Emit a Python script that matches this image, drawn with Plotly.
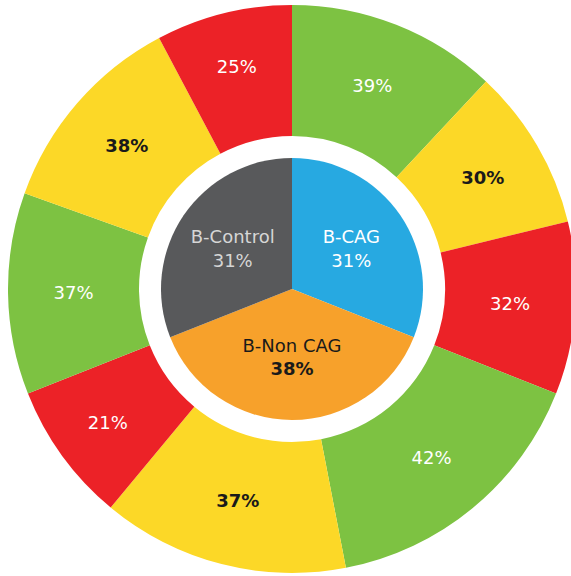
import plotly.graph_objects as go

# ---- data ----
groups = ["B-CAG", "B-Non CAG", "B-Control"]
group_pct = [31, 38, 31]
child_labels = ["Green", "Yellow", "Red"]
child_pct = [
    [39, 30, 32],   # B-CAG
    [42, 37, 21],   # B-Non CAG
    [37, 38, 25],   # B-Control
]

# ---- styles ----
group_colors = ["#27A9E1", "#F7A12B", "#58595B"]
group_text_colors = ["#FFFFFF", "#1A1A1A", "#D6D6D6"]
child_colors = {"Green": "#7DC242", "Yellow": "#FCD827", "Red": "#EC2227"}
child_text_colors = {"Green": "#FFFFFF", "Yellow": "#1A1A1A", "Red": "#FFFFFF"}

W, H = 600, 600                # figure larger than the 571x576 window (overflow hidden)
CX, CY = 292, 289              # pixel centre (from top-left)
R_OUT, R_RING_IN, R_PIE = 284, 153, 131

# outer ring: each group's angular share split by its children
outer_vals, outer_text, outer_cols, outer_tcols, outer_lbls = [], [], [], [], []
for g, gp, kids in zip(groups, group_pct, child_pct):
    s = sum(kids)
    for lab, k in zip(child_labels, kids):
        outer_vals.append(gp * k / s)
        bold = lab == "Yellow"
        outer_text.append(f"<b>{k}%</b>" if bold else f"{k}%")
        outer_cols.append(child_colors[lab])
        outer_tcols.append(child_text_colors[lab])
        outer_lbls.append(f"{g} {lab}")

inner_text = []
for g, p in zip(groups, group_pct):
    if g == "B-Non CAG":
        inner_text.append(f"{g}<br><b>{p}%</b>")
    else:
        inner_text.append(f"{g}<br>{p}%")


def dom(r):
    return dict(
        x=[(CX - r) / W, (CX + r) / W],
        y=[(H - CY - r) / H, (H - CY + r) / H],
    )


FONT = "DejaVu Sans"
FS = 18

fig = go.Figure()
fig.add_trace(go.Pie(
    labels=outer_lbls, values=outer_vals, text=outer_text,
    textinfo="text", texttemplate="%{text}",
    sort=False, direction="clockwise", rotation=0,
    hole=R_RING_IN / R_OUT,
    marker=dict(colors=outer_cols, line=dict(width=0)),
    textfont=dict(family=FONT, size=FS, color=outer_tcols),
    insidetextfont=dict(family=FONT, size=FS, color=outer_tcols),
    textposition="inside", insidetextorientation="horizontal",
    domain=dom(R_OUT), showlegend=False, hoverinfo="skip",
))
fig.add_trace(go.Pie(
    labels=groups, values=group_pct, text=inner_text,
    textinfo="text", texttemplate="%{text}",
    sort=False, direction="clockwise", rotation=0,
    marker=dict(colors=group_colors, line=dict(width=0)),
    textfont=dict(family=FONT, size=FS, color=group_text_colors),
    insidetextfont=dict(family=FONT, size=FS, color=group_text_colors),
    textposition="inside", insidetextorientation="horizontal",
    domain=dom(R_PIE), showlegend=False, hoverinfo="skip",
))

fig.update_layout(
    width=W, height=H,
    margin=dict(l=0, r=0, t=0, b=0),
    paper_bgcolor="white", plot_bgcolor="white",
    uniformtext=dict(minsize=10, mode="show"),
)

fig.write_html(
    "out.html",
    config={"displayModeBar": False, "staticPlot": True},
    post_script="document.body.style.margin='0';document.body.style.overflow='hidden';"
                "document.documentElement.style.overflow='hidden';",
)
